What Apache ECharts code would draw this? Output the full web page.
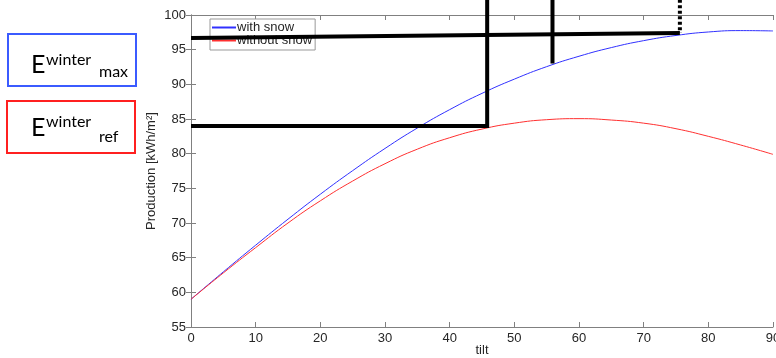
<!DOCTYPE html>
<html>
<head>
    <meta charset="utf-8">
    <title>Production vs tilt</title>
    <script src="https://cdn.jsdelivr.net/npm/echarts@6/dist/echarts.min.js"></script>
    <style>
        body { margin: 0; background: #fff; }
    </style>
</head>
<body>
<div id="main" style="width: 776px;height:358px;"></div>
<script type="text/javascript">
    // tilt angles (deg) and production
    var tilt = [0, 5, 10, 15, 20, 25, 30, 35, 40, 45, 50, 55, 60, 65, 70, 75, 80, 85, 90];
    var withSnow = [59.0, 62.95, 66.8, 70.55, 74.15, 77.55, 80.75, 83.7, 86.35, 88.7, 90.75, 92.55, 94.05, 95.3, 96.3, 97.05, 97.55, 97.75, 97.7];
    var withoutSnow = [59.0, 62.8, 66.45, 70.0, 73.2, 76.05, 78.55, 80.65, 82.3, 83.55, 84.4, 84.9, 85.05, 84.85, 84.4, 83.6, 82.5, 81.25, 79.9];

    // black annotation lines [tilt, production]
    var maxLine = [[0, 96.7], [75.6, 97.4]];
    var refLine = [[0, 84], [45.8, 84], [45.8, 102.2]];
    var midLine = [[55.9, 102.2], [55.9, 93.0]];
    var dotLine = [[75.6, 102.2], [75.6, 97.4]];

    function pairs(xs, ys) {
        return xs.map(function (x, i) { return [x, ys[i]]; });
    }

    var axisGray = '#808080';
    var labelColor = '#262626';

    function annot(name, data, dashed) {
        return {
            name: name,
            type: 'line',
            data: data,
            symbol: 'none',
            clip: false,
            silent: true,
            z: 10,
            lineStyle: { color: '#000', width: 4, type: dashed ? [3, 2.5] : 'solid', cap: 'butt', join: 'miter' }
        };
    }

    var myChart = echarts.init(document.getElementById('main'));
    myChart.setOption({
        animation: false,
        grid: { left: 191, right: 3, top: 15, bottom: 31, outerBoundsMode: 'none' },
        legend: {
            data: ['with snow', 'without snow'],
            orient: 'vertical',
            left: 210,
            top: 19,
            z: 1,
            itemGap: 0,
            itemWidth: 24,
            itemHeight: 13,
            itemStyle: { opacity: 0 },
            padding: [2, 3, 3, 1],
            backgroundColor: '#fff',
            borderColor: '#999',
            borderWidth: 1,
            borderRadius: 0,
            textStyle: { fontFamily: 'Liberation Sans', fontSize: 13, color: labelColor, lineHeight: 13, padding: [0, 0, 0, -4] }
        },
        xAxis: [{
            type: 'value',
            min: 0, max: 90, interval: 10,
            name: 'tilt',
            nameLocation: 'middle',
            nameGap: 17,
            nameMoveOverlap: false,
            nameTextStyle: { fontFamily: 'Liberation Sans', fontSize: 13, color: labelColor },
            axisLine: { lineStyle: { color: axisGray } },
            axisTick: { inside: true, length: 5, lineStyle: { color: axisGray } },
            axisLabel: { margin: 5, fontFamily: 'Liberation Sans', fontSize: 13, color: labelColor },
            splitLine: { show: false }
        }, {
            type: 'value',
            position: 'top',
            min: 0, max: 90, interval: 10,
            axisLine: { lineStyle: { color: axisGray } },
            axisTick: { inside: true, length: 5, lineStyle: { color: axisGray } },
            axisLabel: { show: false },
            splitLine: { show: false }
        }],
        yAxis: [{
            type: 'value',
            min: 55, max: 100, interval: 5,
            name: 'Production [kWh/m²]',
            nameLocation: 'middle',
            nameGap: 33,
            nameMoveOverlap: false,
            nameTextStyle: { fontFamily: 'Liberation Sans', fontSize: 13, color: labelColor },
            axisLine: { show: true, lineStyle: { color: axisGray } },
            axisTick: { show: true, inside: true, length: 5, lineStyle: { color: axisGray } },
            axisLabel: { margin: 5, fontFamily: 'Liberation Sans', fontSize: 13, color: labelColor },
            splitLine: { show: false }
        }, {
            type: 'value',
            position: 'right',
            min: 55, max: 100, interval: 5,
            axisLine: { show: true, lineStyle: { color: axisGray } },
            axisTick: { show: true, inside: true, length: 5, lineStyle: { color: axisGray } },
            axisLabel: { show: false },
            splitLine: { show: false }
        }],
        series: [
            {
                name: 'with snow',
                type: 'line',
                data: pairs(tilt, withSnow),
                smooth: true,
                symbol: 'none',
                itemStyle: { color: '#3030ff' },
                lineStyle: { color: '#3030ff', width: 1 }
            },
            {
                name: 'without snow',
                type: 'line',
                data: pairs(tilt, withoutSnow),
                smooth: true,
                symbol: 'none',
                itemStyle: { color: '#ff3030' },
                lineStyle: { color: '#ff3030', width: 1 }
            },
            annot('max', maxLine, false),
            annot('ref', refLine, false),
            annot('mid', midLine, false),
            annot('dot', dotLine, true)
        ],
        graphic: [
            { type: 'rect', shape: { x: 8, y: 34, width: 128, height: 52 }, style: { fill: '#fff', stroke: '#3b5bff', lineWidth: 2 } },
            { type: 'text', style: { x: 31, y: 52, text: 'E', font: '25px Lato', fill: '#000', verticalAlign: 'top' } },
            { type: 'text', style: { x: 46, y: 52, text: 'winter', font: '16px Lato', fill: '#000', verticalAlign: 'top' } },
            { type: 'text', style: { x: 99, y: 64, text: 'max', font: '16px Lato', fill: '#000', verticalAlign: 'top' } },
            { type: 'rect', shape: { x: 7, y: 101, width: 128, height: 52 }, style: { fill: '#fff', stroke: '#ff2020', lineWidth: 2 } },
            { type: 'text', style: { x: 31, y: 115, text: 'E', font: '25px Lato', fill: '#000', verticalAlign: 'top' } },
            { type: 'text', style: { x: 46, y: 114, text: 'winter', font: '16px Lato', fill: '#000', verticalAlign: 'top' } },
            { type: 'text', style: { x: 99, y: 129, text: 'ref', font: '16px Lato', fill: '#000', verticalAlign: 'top' } }
        ]
    });
</script>
</body>
</html>
